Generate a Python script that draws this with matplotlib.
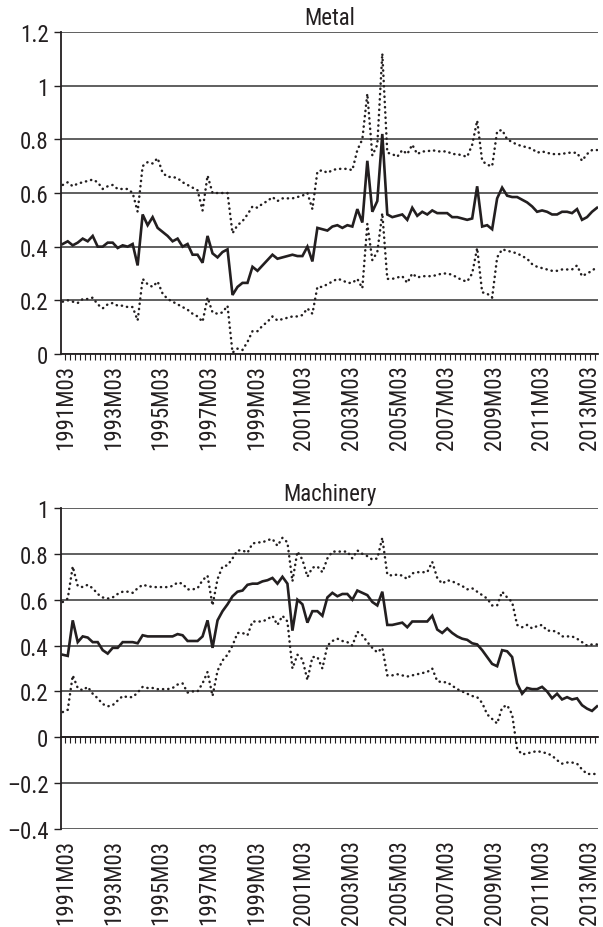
import numpy as np
import matplotlib
matplotlib.use("Agg")
import matplotlib.pyplot as plt
from matplotlib import font_manager as fm
from matplotlib.ticker import FuncFormatter

# ---------------------------------------------------------------- data
PERIOD_LABELS = ["1991M03", "1993M03", "1995M03", "1997M03", "1999M03", "2001M03",
                 "2003M03", "2005M03", "2007M03", "2009M03", "2011M03", "2013M03"]

metal_mid = [0.41, 0.42, 0.405, 0.415, 0.43, 0.42, 0.44, 0.40, 0.40, 0.415,
             0.415, 0.395, 0.405, 0.40, 0.41, 0.33, 0.52, 0.48, 0.51, 0.47,
             0.455, 0.44, 0.42, 0.43, 0.40, 0.41, 0.37, 0.37, 0.34, 0.44,
             0.375, 0.36, 0.38, 0.39, 0.22, 0.25, 0.265, 0.265, 0.325, 0.31,
             0.33, 0.35, 0.37, 0.355, 0.36, 0.365, 0.37, 0.365, 0.365, 0.40,
             0.345, 0.47, 0.465, 0.46, 0.475, 0.48, 0.47, 0.48, 0.475, 0.54,
             0.49, 0.72, 0.53, 0.57, 0.82, 0.52, 0.51, 0.515, 0.52, 0.50,
             0.545, 0.515, 0.53, 0.52, 0.535, 0.525, 0.525, 0.525, 0.51, 0.51,
             0.505, 0.50, 0.505, 0.625, 0.475, 0.48, 0.465, 0.58, 0.62, 0.59,
             0.585, 0.585, 0.575, 0.565, 0.55, 0.53, 0.535, 0.53, 0.52, 0.52,
             0.53, 0.53, 0.525, 0.54, 0.50, 0.51, 0.53, 0.545]

metal_upper = [0.63, 0.64, 0.625, 0.635, 0.64, 0.645, 0.65, 0.64, 0.615, 0.625,
               0.63, 0.615, 0.615, 0.615, 0.60, 0.53, 0.70, 0.715, 0.71, 0.73,
               0.675, 0.66, 0.66, 0.655, 0.64, 0.63, 0.62, 0.61, 0.535, 0.665,
               0.60, 0.60, 0.60, 0.60, 0.45, 0.48, 0.495, 0.52, 0.55, 0.545,
               0.56, 0.57, 0.585, 0.57, 0.58, 0.58, 0.58, 0.585, 0.59, 0.60,
               0.54, 0.68, 0.685, 0.675, 0.685, 0.69, 0.69, 0.69, 0.685, 0.76,
               0.80, 0.97, 0.74, 0.78, 1.12, 0.75, 0.745, 0.735, 0.76, 0.745,
               0.78, 0.745, 0.755, 0.755, 0.76, 0.755, 0.755, 0.755, 0.745, 0.745,
               0.74, 0.735, 0.78, 0.87, 0.72, 0.705, 0.70, 0.83, 0.835, 0.80,
               0.79, 0.78, 0.775, 0.77, 0.765, 0.75, 0.755, 0.75, 0.745, 0.745,
               0.745, 0.75, 0.75, 0.75, 0.72, 0.745, 0.76, 0.76]

metal_lower = [0.195, 0.20, 0.195, 0.19, 0.205, 0.205, 0.21, 0.185, 0.17, 0.185,
               0.19, 0.18, 0.18, 0.175, 0.175, 0.125, 0.28, 0.26, 0.25, 0.27,
               0.225, 0.205, 0.195, 0.185, 0.175, 0.165, 0.15, 0.14, 0.12, 0.21,
               0.155, 0.15, 0.155, 0.18, 0.005, 0.02, 0.015, 0.045, 0.085, 0.085,
               0.105, 0.12, 0.14, 0.125, 0.13, 0.135, 0.14, 0.14, 0.145, 0.17,
               0.15, 0.25, 0.25, 0.26, 0.27, 0.28, 0.275, 0.265, 0.265, 0.28,
               0.245, 0.485, 0.35, 0.38, 0.525, 0.28, 0.28, 0.285, 0.29, 0.265,
               0.30, 0.285, 0.29, 0.29, 0.29, 0.295, 0.30, 0.30, 0.295, 0.285,
               0.275, 0.27, 0.30, 0.395, 0.23, 0.225, 0.21, 0.36, 0.39, 0.385,
               0.38, 0.375, 0.365, 0.355, 0.335, 0.325, 0.32, 0.315, 0.31, 0.31,
               0.315, 0.315, 0.315, 0.33, 0.29, 0.30, 0.31, 0.325]

mach_mid = [0.36, 0.355, 0.51, 0.415, 0.44, 0.435, 0.415, 0.415, 0.38, 0.365,
            0.39, 0.39, 0.415, 0.415, 0.415, 0.41, 0.445, 0.44, 0.44, 0.44,
            0.44, 0.44, 0.44, 0.45, 0.445, 0.42, 0.42, 0.42, 0.44, 0.51,
            0.39, 0.51, 0.55, 0.58, 0.615, 0.635, 0.64, 0.665, 0.67, 0.67,
            0.68, 0.685, 0.695, 0.67, 0.70, 0.67, 0.465, 0.60, 0.58, 0.50,
            0.55, 0.55, 0.53, 0.61, 0.63, 0.615, 0.625, 0.625, 0.60, 0.64,
            0.63, 0.62, 0.59, 0.575, 0.635, 0.49, 0.49, 0.495, 0.50, 0.48,
            0.505, 0.505, 0.505, 0.505, 0.53, 0.47, 0.455, 0.475, 0.455, 0.44,
            0.43, 0.425, 0.41, 0.405, 0.38, 0.35, 0.32, 0.31, 0.38, 0.375,
            0.35, 0.235, 0.19, 0.215, 0.21, 0.21, 0.22, 0.20, 0.17, 0.19,
            0.165, 0.175, 0.165, 0.17, 0.14, 0.125, 0.115, 0.135]

mach_upper = [0.59, 0.605, 0.745, 0.66, 0.655, 0.665, 0.65, 0.625, 0.61, 0.605,
              0.61, 0.625, 0.635, 0.635, 0.63, 0.65, 0.665, 0.66, 0.655, 0.655,
              0.655, 0.655, 0.66, 0.675, 0.67, 0.645, 0.645, 0.65, 0.685, 0.705,
              0.575, 0.69, 0.745, 0.75, 0.78, 0.815, 0.815, 0.805, 0.845, 0.85,
              0.85, 0.86, 0.865, 0.835, 0.87, 0.85, 0.68, 0.81, 0.775, 0.70,
              0.74, 0.745, 0.72, 0.78, 0.81, 0.81, 0.81, 0.81, 0.78, 0.815,
              0.80, 0.79, 0.775, 0.78, 0.87, 0.71, 0.705, 0.71, 0.705, 0.69,
              0.715, 0.72, 0.72, 0.72, 0.765, 0.695, 0.67, 0.685, 0.68, 0.67,
              0.66, 0.645, 0.65, 0.635, 0.62, 0.605, 0.575, 0.575, 0.635, 0.61,
              0.59, 0.49, 0.48, 0.49, 0.475, 0.485, 0.49, 0.465, 0.465, 0.46,
              0.44, 0.44, 0.44, 0.43, 0.415, 0.40, 0.405, 0.405]

mach_lower = [0.11, 0.12, 0.27, 0.215, 0.205, 0.22, 0.19, 0.17, 0.145, 0.135,
              0.14, 0.16, 0.18, 0.175, 0.175, 0.195, 0.22, 0.215, 0.215, 0.21,
              0.21, 0.21, 0.215, 0.23, 0.235, 0.195, 0.20, 0.20, 0.235, 0.285,
              0.18, 0.29, 0.335, 0.36, 0.40, 0.455, 0.455, 0.445, 0.505, 0.505,
              0.505, 0.515, 0.53, 0.49, 0.53, 0.505, 0.30, 0.36, 0.34, 0.25,
              0.35, 0.35, 0.30, 0.40, 0.42, 0.43, 0.42, 0.415, 0.40, 0.46,
              0.445, 0.415, 0.39, 0.37, 0.39, 0.27, 0.27, 0.275, 0.27, 0.265,
              0.27, 0.275, 0.28, 0.285, 0.30, 0.245, 0.24, 0.24, 0.225, 0.21,
              0.20, 0.19, 0.18, 0.175, 0.15, 0.10, 0.08, 0.06, 0.13, 0.14,
              0.10, -0.05, -0.075, -0.07, -0.065, -0.06, -0.065, -0.07, -0.08, -0.10,
              -0.115, -0.11, -0.11, -0.115, -0.14, -0.16, -0.16, -0.16]

# ---------------------------------------------------------------- style
available = {f.name for f in fm.fontManager.ttflist}
FONT = next((n for n in ["Liberation Sans Narrow", "Roboto Condensed",
                         "DejaVu Sans Condensed", "DejaVu Sans"] if n in available),
            "DejaVu Sans")
plt.rcParams["font.family"] = [FONT, "DejaVu Sans"]

INK = "#231f20"
GRID = "#3c3c3c"
FS = 16.5

n = len(metal_mid)
x = np.arange(n)
label_pos = np.linspace(0.6, 105.5, len(PERIOD_LABELS))
tick_pos = np.arange(0.5, n - 0.5, 1.0)


def fmt(v, _):
    s = f"{v:g}"
    return s.replace("-", "\u2013")


def panel(ax, title, mid, upper, lower, ylim, yticks):
    ax.set_xlim(-0.35, n - 0.8)
    ax.set_ylim(*ylim)
    ax.set_yticks(yticks)
    ax.yaxis.set_major_formatter(FuncFormatter(fmt))
    ax.yaxis.grid(True, color=GRID, lw=1.15)
    ax.set_axisbelow(True)

    for side in ("top", "right"):
        ax.spines[side].set_visible(False)
    ax.spines["left"].set_color(INK)
    ax.spines["left"].set_linewidth(1.3)
    ax.spines["bottom"].set_color(INK)
    ax.spines["bottom"].set_linewidth(1.3)
    ax.spines["bottom"].set_position(("data", 0))

    ax.tick_params(axis="y", direction="out", length=5, width=1, color=INK,
                   labelsize=FS, pad=4, labelcolor=INK)
    ax.set_xticks(tick_pos)
    ax.tick_params(axis="x", direction="out", length=4, width=0.8, color=INK,
                   labelbottom=False)

    sec = ax.secondary_xaxis("bottom")
    sec.set_xticks(label_pos, PERIOD_LABELS, rotation=90)
    sec.tick_params(length=0, pad=7, labelsize=FS, labelcolor=INK)
    sec.spines["bottom"].set_visible(False)

    ax.plot(x, upper, color=INK, lw=1.8, ls=(0, (0.1, 2.0)),
            dash_capstyle="round", zorder=3)
    ax.plot(x, lower, color=INK, lw=1.8, ls=(0, (0.1, 2.0)),
            dash_capstyle="round", zorder=3)
    ax.plot(x, mid, color=INK, lw=1.9, solid_joinstyle="miter", zorder=4)

    ax.set_title(title, fontsize=FS, color=INK, pad=6)


fig = plt.figure(figsize=(6.03, 9.28), dpi=100)
ax_top = fig.add_axes([61 / 603, 1 - 355 / 928, 537 / 603, 322 / 928])
ax_bot = fig.add_axes([61 / 603, 1 - 830 / 928, 537 / 603, 321 / 928])

panel(ax_top, "Metal", metal_mid, metal_upper, metal_lower,
      (0, 1.2), [0, 0.2, 0.4, 0.6, 0.8, 1.0, 1.2])
panel(ax_bot, "Machinery", mach_mid, mach_upper, mach_lower,
      (-0.4, 1.0), [-0.4, -0.2, 0, 0.2, 0.4, 0.6, 0.8, 1.0])

fig.savefig("out.png", dpi=100)
